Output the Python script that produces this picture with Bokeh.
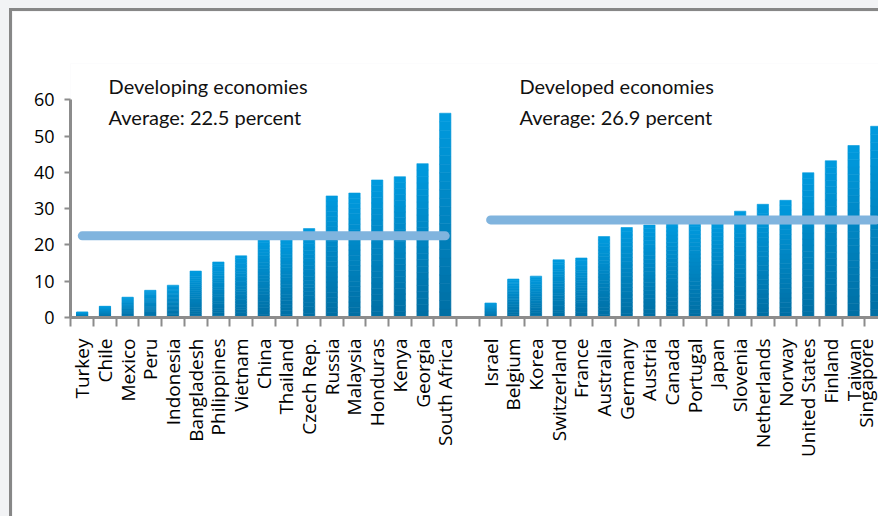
import math
from bokeh.plotting import figure
from bokeh.models import ColumnDataSource, FixedTicker, Range1d
from bokeh.core.properties import value
from bokeh.embed import file_html
from bokeh.resources import INLINE

# ---------------- data ----------------
developing = ["Turkey", "Chile", "Mexico", "Peru", "Indonesia", "Bangladesh",
              "Philippines", "Vietnam", "China", "Thailand", "Czech Rep.", "Russia",
              "Malaysia", "Honduras", "Kenya", "Georgia", "South Africa"]
developing_values = [1.5, 3.1, 5.6, 7.5, 8.9, 12.8, 15.3, 17.0, 21.5, 22.0, 24.5,
                     33.5, 34.3, 37.9, 38.8, 42.4, 56.3]

developed = ["Israel", "Belgium", "Korea", "Switzerland", "France", "Australia",
             "Germany", "Austria", "Canada", "Portugal", "Japan", "Slovenia",
             "Netherlands", "Norway", "United States", "Finland", "Taiwan", "Singapore"]
developed_values = [4.0, 10.6, 11.4, 15.9, 16.4, 22.3, 24.8, 25.5, 26.0, 26.2, 26.8,
                    29.3, 31.2, 32.3, 39.9, 43.2, 47.4, 52.7]

group_titles = ["Developing economies", "Developed economies"]
group_averages = [22.5, 26.9]

y_ticks = [0, 10, 20, 30, 40, 50, 60]

# ---------------- layout of categories ----------------
names = developing + [""] + developed
values = developing_values + [None] + developed_values
xs = list(range(len(names)))
dev_x = xs[:len(developing)]
adv_x = xs[len(developing) + 1:]

# gradient strips for bars (light at top, dark at bottom)
N = 24
top_c = (0x00, 0x9b, 0xdf)
bot_c = (0x00, 0x6e, 0xa3)
sx, sb, st, sc = [], [], [], []
for x, v in zip(xs, values):
    if v is None:
        continue
    for k in range(N):
        f = (k + 0.5) / N
        col = tuple(int(round(bot_c[i] + (top_c[i] - bot_c[i]) * f)) for i in range(3))
        sx.append(x)
        sb.append(v * k / N)
        st.append(v * (k + 1) / N)
        sc.append("#%02x%02x%02x" % col)
bars = ColumnDataSource(dict(x=sx, bottom=sb, top=st, color=sc))

p = figure(width=869, height=508, output_backend="svg", toolbar_location=None,
           x_range=Range1d(-0.518, 35.23), y_range=Range1d(0, 70),
           min_border_left=58, min_border_right=0, min_border_top=52,
           min_border_bottom=202)
p.styles = {"border-top": "3px solid #878787", "border-left": "3px solid #878787",
            "margin-left": "9px", "margin-top": "8px"}
p.background_fill_color = "white"
p.border_fill_color = "white"
p.outline_line_color = None
p.grid.visible = False

p.vbar(x="x", bottom="bottom", top="top", width=0.5, source=bars,
       fill_color="color", line_color="color", line_width=0.6)

# average lines
avg = ColumnDataSource(dict(
    x0=[dev_x[0], adv_x[0]], x1=[dev_x[-1], adv_x[-1]],
    y=group_averages))
p.segment(x0="x0", y0="y", x1="x1", y1="y", source=avg,
          line_color="#80b4de", line_width=9, line_cap="round")

# annotations
txt = ColumnDataSource(dict(
    x=[dev_x[0] + 1.16, dev_x[0] + 1.16, adv_x[0] + 1.27, adv_x[0] + 1.27],
    y=[63.7, 55.2, 63.7, 55.2],
    t=[group_titles[0], "Average: %.1f percent" % group_averages[0],
       group_titles[1], "Average: %.1f percent" % group_averages[1]]))
p.text(x="x", y="y", text="t", source=txt, text_font=value("Lato"),
       text_font_size="20px", text_color="#111111", text_baseline="alphabetic")

# x axis
xa = p.xaxis[0]
xa.ticker = FixedTicker(ticks=xs, minor_ticks=[x - 0.5 for x in xs] + [xs[-1] + 0.5])
xa.major_label_overrides = {x: n for x, n in zip(xs, names)}
xa.major_label_orientation = math.pi / 2
xa.major_label_text_font = "Open Sans"
xa.major_label_text_font_size = "19px"
xa.major_label_text_color = "#000000"
xa.major_label_standoff = 12
xa.major_tick_line_color = None
xa.major_tick_out = 9
xa.major_tick_in = 0
xa.minor_tick_line_color = "#8c8c8c"
xa.minor_tick_line_width = 2
xa.minor_tick_out = 9
xa.minor_tick_in = 0
xa.axis_line_color = "#8c8c8c"
xa.axis_line_width = 3

# y axis
ya = p.yaxis[0]
ya.ticker = FixedTicker(ticks=y_ticks)
ya.bounds = (0, 60)
ya.major_label_text_font = "Open Sans"
ya.major_label_text_font_size = "18px"
ya.major_label_text_color = "#000000"
ya.major_label_standoff = 10
ya.major_tick_line_color = "#8c8c8c"
ya.major_tick_line_width = 2
ya.major_tick_out = 6
ya.major_tick_in = 0
ya.minor_tick_line_color = None
ya.axis_line_color = "#8c8c8c"
ya.axis_line_width = 3

html = file_html(p, INLINE)
html = html.replace("</head>",
                    "<style>html,body{margin:0;padding:0;overflow:hidden;background:#f2f3f5;}</style></head>", 1)
open("out.html", "w").write(html)
